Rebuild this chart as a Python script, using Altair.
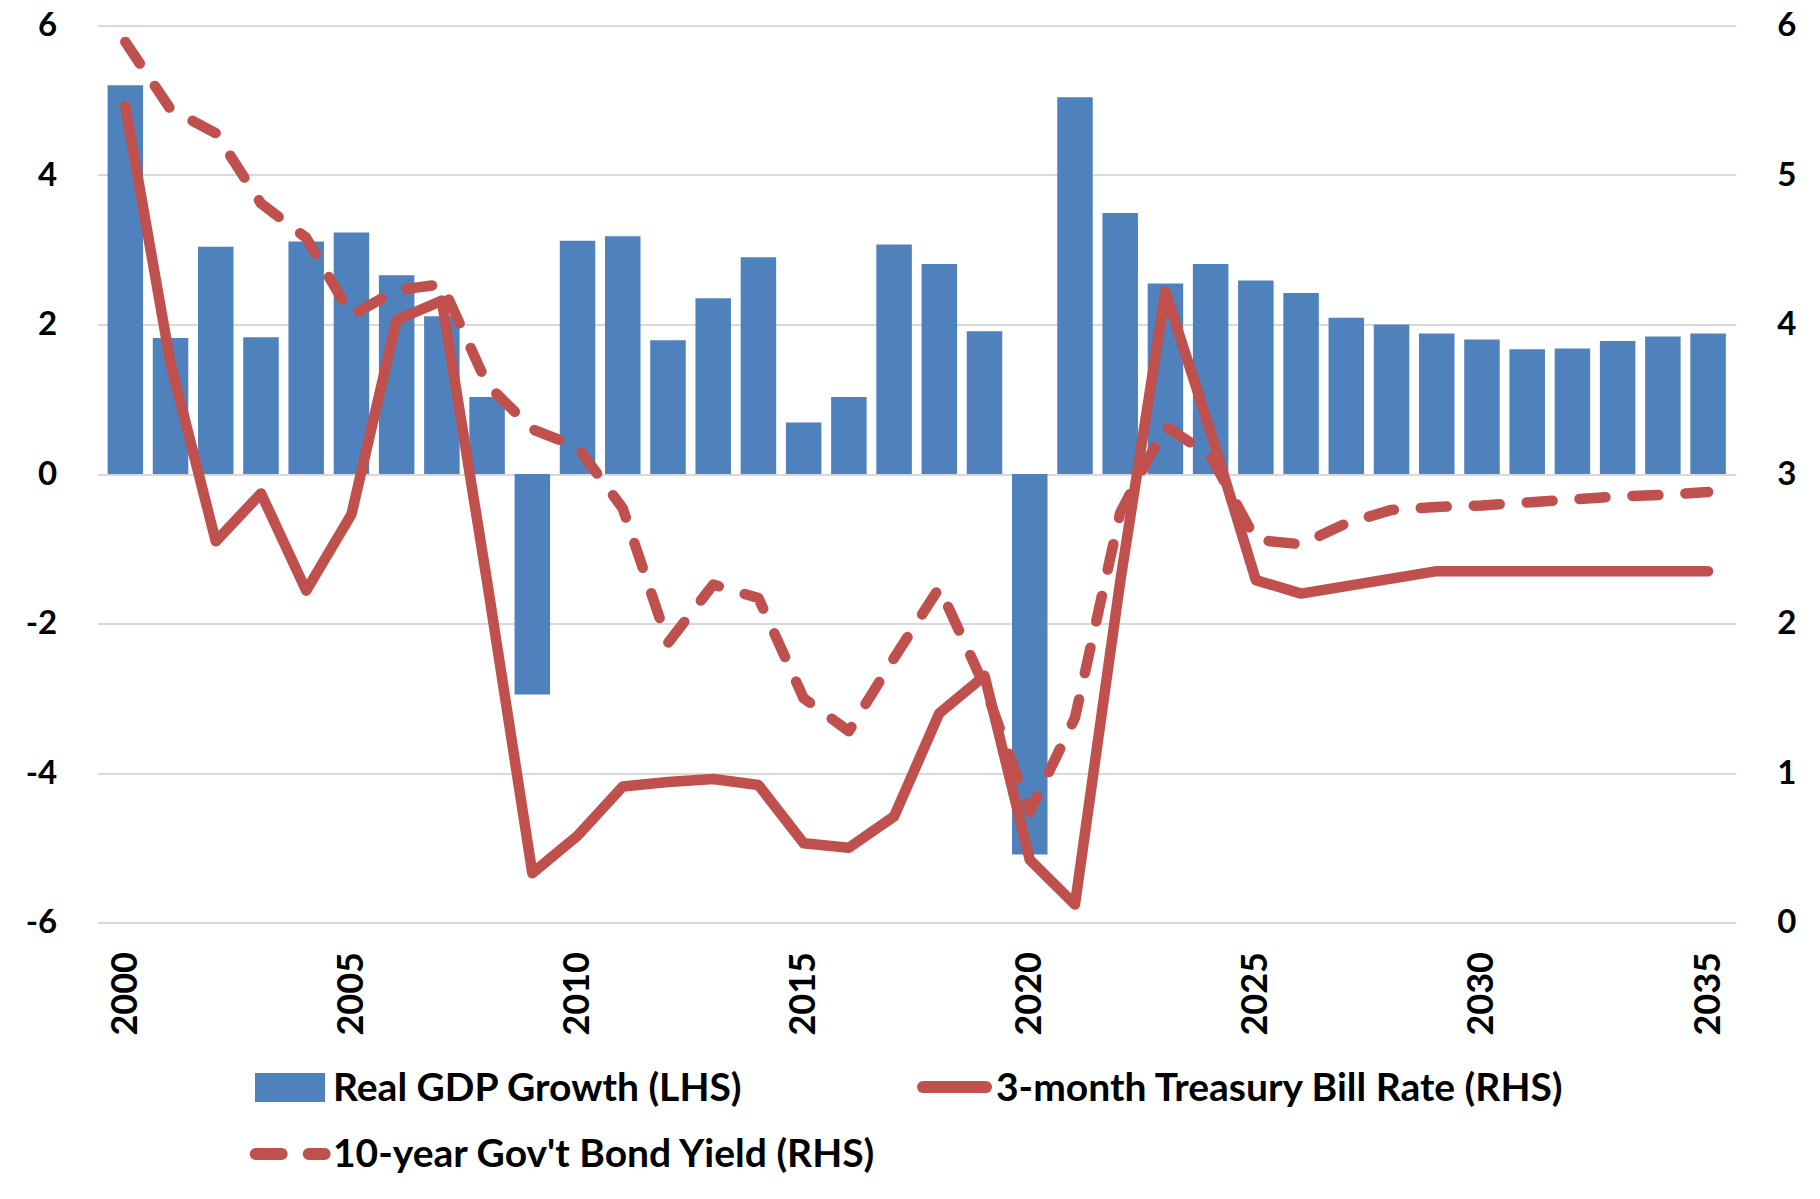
import altair as alt
import pandas as pd

# ---------------- data ----------------
years = list(range(2000, 2036))

gdp_growth = [5.20, 1.82, 3.04, 1.83, 3.11, 3.23, 2.66, 2.11, 1.03, -2.95,
              3.12, 3.18, 1.79, 2.35, 2.90, 0.69, 1.03, 3.07, 2.81, 1.91,
              -5.09, 5.04, 3.49, 2.55, 2.81, 2.59, 2.42, 2.09, 2.00, 1.88,
              1.80, 1.67, 1.68, 1.78, 1.84, 1.88]

tbill_3m = [5.46, 3.74, 2.55, 2.87, 2.22, 2.73, 4.03, 4.16, 2.28, 0.33,
            0.58, 0.91, 0.94, 0.96, 0.92, 0.53, 0.50, 0.71, 1.40, 1.65,
            0.42, 0.12, 2.28, 4.22, 3.28, 2.29, 2.20, 2.25, 2.30, 2.35,
            2.35, 2.35, 2.35, 2.35, 2.35, 2.35]

bond_10y = [5.89, 5.44, 5.28, 4.81, 4.58, 4.06, 4.23, 4.27, 3.60, 3.30,
            3.18, 2.77, 1.87, 2.26, 2.17, 1.50, 1.28, 1.77, 2.24, 1.58,
            0.74, 1.37, 2.74, 3.32, 3.12, 2.56, 2.53, 2.67, 2.76, 2.78,
            2.79, 2.81, 2.83, 2.85, 2.86, 2.88]

x_tick_values = [2000, 2005, 2010, 2015, 2020, 2025, 2030, 2035]
lhs_ticks = [-6, -4, -2, 0, 2, 4, 6]
rhs_ticks = [0, 1, 2, 3, 4, 5, 6]

legend_labels = ["Real GDP Growth (LHS)",
                 "3-month Treasury Bill Rate (RHS)",
                 "10-year Gov't Bond Yield (RHS)"]

# ---------------- styling ----------------
BLUE = "#4F81BD"
RED = "#C0504D"
GRID = "#D9D9D9"
FONT = "Lato"
FS_X = 36
FS_Y = 33
FS_LEG = 39
LW = 10.5

df = pd.DataFrame({"year": years, "gdp": gdp_growth,
                   "tbill": tbill_3m, "bond": bond_10y})

W, H = 1638, 897
PAD_L, PAD_T = 89.7, 17.5

x_enc = alt.X("year:Q",
              scale=alt.Scale(domain=[1999.5, 2035.5], nice=False, zero=False),
              axis=alt.Axis(values=x_tick_values, format="d", labelAngle=270,
                            labelPadding=29, grid=False, domain=False,
                            ticks=False, tickSize=0, title=None,
                            labelFontSize=FS_X))

bars = alt.Chart(df).mark_bar(color=BLUE, size=35.5).encode(
    x=x_enc,
    y=alt.Y("gdp:Q",
            scale=alt.Scale(domain=[-6, 6], nice=False),
            axis=alt.Axis(values=lhs_ticks, orient="left", grid=True,
                          gridColor=GRID, gridWidth=2, domain=False,
                          ticks=False, tickSize=0, labelPadding=41,
                          labelExpr="'' + datum.value",
                          labelFontSize=FS_Y, title=None)))

r_scale = alt.Scale(domain=[0, 6], nice=False)
r_axis = alt.Axis(values=rhs_ticks, orient="right", grid=False, domain=False,
                  ticks=False, tickSize=0, labelPadding=41, title=None,
                  labelExpr="'' + datum.value", labelFontSize=FS_Y)

solid = alt.Chart(df).mark_line(color=RED, strokeWidth=LW, strokeCap="round",
                                strokeJoin="round").encode(
    x=x_enc, y=alt.Y("tbill:Q", scale=r_scale, axis=r_axis))

dashed = alt.Chart(df).mark_line(color=RED, strokeWidth=LW, strokeCap="round",
                                 strokeJoin="round", strokeDash=[26, 27]).encode(
    x=x_enc, y=alt.Y("bond:Q", scale=r_scale, axis=r_axis))

rates = alt.layer(dashed, solid)

# ---------------- legend (drawn manually, below the plot) ----------------
one = pd.DataFrame({"k": [0]})

leg_rect = alt.Chart(one).mark_rect(color=BLUE).encode(
    x=alt.value(157.3), x2=alt.value(227.3),
    y=alt.value(1047.5), y2=alt.value(1076.5))

leg_solid = alt.Chart(one).mark_rule(color=RED, strokeWidth=12,
                                     strokeCap="round").encode(
    x=alt.value(825.3), x2=alt.value(888.3), y=alt.value(1061.5))

leg_dash = alt.Chart(one).mark_rule(color=RED, strokeWidth=12, strokeCap="round",
                                    strokeDash=[26, 27]).encode(
    x=alt.value(158.0), x2=alt.value(227.0), y=alt.value(1128.5))


def leg_text(label, xpos, ypos):
    return alt.Chart(pd.DataFrame({"t": [label]})).mark_text(
        font=FONT, fontSize=FS_LEG, fontWeight="bold", color="black",
        align="left", baseline="alphabetic").encode(
        text="t:N", x=alt.value(xpos), y=alt.value(ypos))


t1 = leg_text(legend_labels[0], 235.3, 1075.0)
t2 = leg_text(legend_labels[1], 898.3, 1075.0)
t3 = leg_text(legend_labels[2], 235.3, 1141.5)

# chart-area border (thin grey verticals)
border_l = alt.Chart(one).mark_rule(color=GRID, strokeWidth=1.5).encode(
    x=alt.value(-90.7), y=alt.value(-26), y2=alt.value(1175))
border_r = alt.Chart(one).mark_rule(color=GRID, strokeWidth=1.5).encode(
    x=alt.value(1715.3), y=alt.value(-26), y2=alt.value(1175))

chart = alt.layer(
    bars, rates, leg_rect, leg_solid, leg_dash, t1, t2, t3, border_l, border_r
).resolve_scale(y="independent").properties(
    width=W, height=H,
    autosize=alt.AutoSizeParams(type="none"),
    padding={"left": PAD_L, "top": PAD_T, "right": 1804 - PAD_L - W,
             "bottom": 1183 - PAD_T - H},
).configure_view(stroke=None).configure_axis(
    labelFont=FONT, labelFontWeight="bold", labelColor="black")

chart.save("out.html", embed_options={"renderer": "svg", "actions": False})
